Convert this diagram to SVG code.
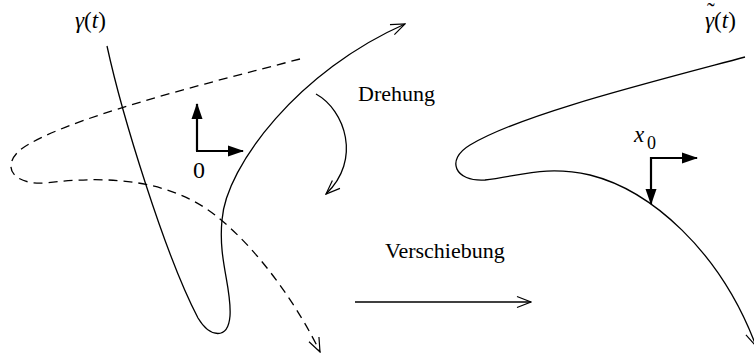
<svg xmlns="http://www.w3.org/2000/svg" width="754" height="356" viewBox="0 0 754 356">
  <style>
    .curve { fill: none; stroke: #000; stroke-width: 1.3; }
    .dash { stroke-dasharray: 9 6; }
    .axis { fill: none; stroke: #000; stroke-width: 2.2; }
    .txt { font-family: "Liberation Serif", "Times New Roman", serif; font-size: 22px; fill: #000; }
    .math { font-size: 23px; }
    .it { font-style: italic; }
  </style>
  <defs>
    <marker id="open" markerWidth="16" markerHeight="14" refX="15" refY="7" orient="auto" markerUnits="userSpaceOnUse">
      <path d="M1,1.5 L15,7 L1,12.5" fill="none" stroke="#000" stroke-width="1.2"/>
    </marker>
    <marker id="solid" markerWidth="16" markerHeight="12" refX="15" refY="6" orient="auto" markerUnits="userSpaceOnUse">
      <path d="M0,0.5 L16,6 L0,11.5 Z" fill="#000"/>
    </marker>
  </defs>

  <g id="connectors">
    <!-- original curve gamma(t) -->
    <path class="curve" d="M107,46 C122,115 165,255 198,318 C210,338 228,340 230,316 C232,288 218,260 222,220 C226,165 300,70 405,24" marker-end="url(#open)"/>
    <!-- rotated curve (dashed) -->
    <path class="curve dash" d="M300,59 C200,85 60,120 20,150 C0,168 15,185 45,183 C110,175 170,180 215,215 C260,250 300,310 320,352" marker-end="url(#open)"/>
    <!-- rotation arrow -->
    <path class="curve" d="M316,94 C345,110 362,160 326,194" marker-end="url(#open)"/>
    <!-- translation arrow -->
    <path class="curve" d="M355,302 L531,302" marker-end="url(#open)"/>
    <!-- resulting curve tilde gamma(t) -->
    <path class="curve" d="M745,57 C640,85 520,115 470,145 C445,160 455,182 485,180 C520,176 545,165 590,175 C650,190 720,250 756,346" marker-end="url(#open)"/>
  </g>

  <g id="frame-origin">
    <path class="axis" d="M197,151 L197,104" marker-end="url(#solid)"/>
    <path class="axis" d="M196,151 L243,151" marker-end="url(#solid)"/>
    <text class="txt" x="193" y="178" style="font-size:24px">0</text>
  </g>

  <g id="frame-x0">
    <path class="axis" d="M651,158 L697,158" marker-end="url(#solid)"/>
    <path class="axis" d="M651,157 L651,204" marker-end="url(#solid)"/>
    <text class="txt math it" x="634" y="142">x</text>
    <text class="txt" x="647" y="149" style="font-size:18px">0</text>
  </g>

  <g id="label-gamma">
    <text class="txt math" x="75" y="28"><tspan class="it">γ</tspan>(<tspan class="it">t</tspan>)</text>
  </g>
  <g id="label-gamma-tilde">
    <text class="txt math" x="705" y="28"><tspan class="it">γ</tspan>(<tspan class="it">t</tspan>)</text>
    <text class="txt math" x="707" y="19">˜</text>
  </g>
  <g id="label-drehung">
    <text class="txt" x="358" y="101">Drehung</text>
  </g>
  <g id="label-verschiebung">
    <text class="txt" x="385" y="258">Verschiebung</text>
  </g>
</svg>
